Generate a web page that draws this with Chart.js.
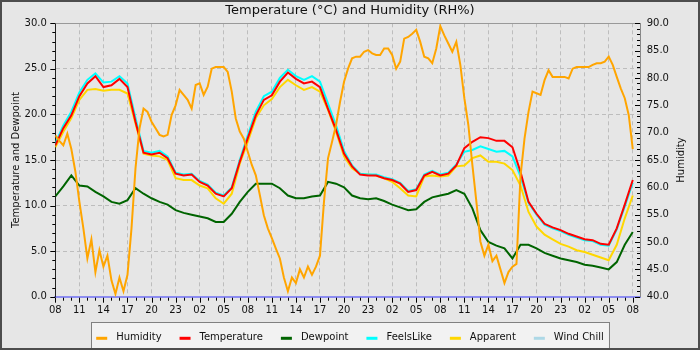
<!DOCTYPE html>
<html>
<head>
<meta charset="utf-8">
<script src="https://cdn.jsdelivr.net/npm/chart.js@4/dist/chart.umd.min.js"></script>
<style>
html, body { margin: 0; padding: 0; background: #e6e6e6; }
#frame { position: absolute; left: 0; top: 0; width: 700px; height: 350px; box-sizing: border-box;
         border: 2px solid #4d4d4d; background: #e6e6e6; overflow: hidden; }
canvas { display: block; }
</style>
</head>
<body>
<div id="frame"><canvas id="weather" width="696" height="346"></canvas></div>
<script>
const START_HOUR = 8;   // first sample at 08:00
const HOUR_SPAN = 72.9;
const FONT = '"DejaVu Sans", sans-serif';

// hourly readings, degrees C
var temperature = [
  16.6, 18.5, 19.9, 22.0, 23.4, 24.2, 23.0, 23.2, 23.9, 23.0, 19.2, 15.8,
  15.6, 15.8, 15.2, 13.5, 13.3, 13.4, 12.6, 12.2, 11.3, 11.0, 11.9, 14.8,
  17.4, 19.9, 21.6, 22.1, 23.6, 24.6, 23.9, 23.4, 23.6, 23.0, 20.6, 18.3,
  15.7, 14.3, 13.4, 13.3, 13.3, 13.0, 12.8, 12.4, 11.5, 11.7, 13.3, 13.7,
  13.3, 13.5, 14.4, 16.3, 17.0, 17.5, 17.4, 17.1, 17.1, 16.4, 13.7, 10.4,
  9.1, 8.0, 7.6, 7.3, 6.9, 6.6, 6.3, 6.2, 5.8, 5.7, 7.5, 10.1,
  12.8
];
var dewpoint = [
  11.0, 12.1, 13.3, 12.2, 12.1, 11.5, 11.0, 10.4, 10.2, 10.6, 11.9, 11.3,
  10.8, 10.4, 10.1, 9.5, 9.2, 9.0, 8.8, 8.6, 8.2, 8.2, 9.1, 10.4,
  11.5, 12.4, 12.4, 12.4, 11.9, 11.1, 10.8, 10.8, 11.0, 11.1, 12.6, 12.4,
  12.0, 11.1, 10.8, 10.7, 10.8, 10.5, 10.1, 9.8, 9.5, 9.6, 10.4, 10.9,
  11.1, 11.3, 11.7, 11.3, 9.7, 7.3, 6.0, 5.6, 5.3, 4.2, 5.7, 5.7,
  5.3, 4.8, 4.5, 4.2, 4.0, 3.8, 3.5, 3.4, 3.2, 3.0, 3.8, 5.7,
  7.1
];
var feelsLike = [
  16.8, 18.8, 20.3, 22.4, 23.8, 24.5, 23.5, 23.6, 24.2, 23.4, 19.6, 16.0,
  15.8, 16.0, 15.4, 13.6, 13.4, 13.5, 12.7, 12.3, 11.4, 11.1, 12.0, 15.0,
  17.7, 20.3, 22.0, 22.5, 24.0, 24.9, 24.2, 23.8, 24.2, 23.6, 21.2, 18.8,
  16.0, 14.4, 13.5, 13.4, 13.4, 13.1, 12.9, 12.5, 11.6, 11.8, 13.4, 13.8,
  13.4, 13.6, 14.5, 15.9, 16.1, 16.5, 16.2, 15.9, 16.0, 15.4, 13.2, 10.3,
  9.0, 7.9, 7.5, 7.2, 6.8, 6.5, 6.2, 6.1, 5.7, 5.6, 7.4, 9.9,
  12.5
];
var apparent = [
  16.4, 18.1, 19.6, 21.6, 22.7, 22.8, 22.6, 22.7, 22.7, 22.3, 19.0, 15.7,
  15.5, 15.4, 15.0, 13.0, 12.8, 12.8, 12.2, 11.9, 10.8, 10.2, 11.3, 14.6,
  17.0, 19.6, 21.0, 21.7, 23.0, 23.8, 23.2, 22.7, 23.0, 22.5, 20.5, 18.1,
  15.4, 14.1, 13.5, 13.4, 13.3, 13.0, 12.6, 11.9, 11.1, 11.0, 13.2, 13.3,
  13.2, 13.3, 14.3, 14.4, 15.2, 15.5, 14.8, 14.8, 14.6, 13.9, 12.2, 9.3,
  7.7, 6.8, 6.3, 5.8, 5.5, 5.1, 4.9, 4.6, 4.3, 4.0, 5.7, 8.6,
  11.1
];
var windChill = [];

// half-hourly readings, RH %
var humidity = [
  69.5, 68.5, 67.7, 69.8, 67.0, 62.9, 57.4, 52.5, 47.0, 50.5, 44.5, 48.5,
  45.5, 47.5, 43.0, 40.5, 43.5, 41.0, 44.0, 52.5, 63.5, 70.8, 74.4, 73.8,
  72.0, 70.8, 69.6, 69.3, 69.6, 73.2, 75.0, 77.8, 76.9, 76.0, 74.4, 78.7,
  79.0, 76.9, 78.4, 81.7, 82.0, 82.0, 82.0, 81.1, 77.5, 72.6, 70.2, 68.9,
  66.5, 64.1, 62.2, 58.6, 54.9, 52.5, 50.7, 48.8, 47.0, 43.5, 41.0, 43.5,
  42.5, 45.0, 43.5, 45.5, 44.0, 45.5, 47.5, 57.4, 65.3, 68.3, 71.4, 75.6,
  79.3, 81.7, 83.6, 83.9, 83.9, 84.8, 85.1, 84.5, 84.2, 84.2, 85.4, 85.4,
  84.2, 81.7, 83.0, 87.2, 87.5, 88.1, 88.8, 86.6, 83.9, 83.6, 82.7, 85.4,
  89.5, 87.8, 86.3, 84.8, 86.6, 82.4, 76.3, 71.4, 64.1, 57.4, 50.1, 47.5,
  49.5, 46.5, 47.5, 45.0, 42.5, 44.5, 45.5, 46.0, 62.0, 68.9, 73.8, 77.5,
  77.2, 76.9, 79.6, 81.4, 80.2, 80.2, 80.2, 80.2, 79.9, 81.7, 82.0, 82.0,
  82.0, 82.0, 82.4, 82.7, 82.7, 83.0, 83.9, 82.4, 80.2, 78.1, 76.3, 73.2,
  67.0
];

var hourly = arr => arr.map((v, i) => ({x: i, y: v}));
var halfHourly = arr => arr.map((v, i) => ({x: i / 2, y: v}));

function series(label, data, color, axis) {
    return {label: label, data: data, borderColor: color, backgroundColor: color,
            borderWidth: 2, pointRadius: 0, tension: 0, yAxisID: axis};
}

var extras = {
    id: 'extras',
    afterDraw(chart) {
        let ctx = chart.ctx, a = chart.chartArea;
        let x = chart.scales.x, y = chart.scales.y, y1 = chart.scales.y1;
        ctx.save();
        ctx.lineWidth = 1;
        ctx.strokeStyle = '#999';
        ctx.beginPath();
        ctx.moveTo(a.left, Math.round(a.top) + 0.5);
        ctx.lineTo(a.right, Math.round(a.top) + 0.5);
        ctx.stroke();

        // major + minor tick marks
        ctx.strokeStyle = '#000';
        ctx.beginPath();
        for (let h = 0; h <= x.max; h++) {
            let px = Math.round(x.getPixelForValue(h)) + 0.5;
            let len = h % 3 === 0 ? 5 : 3;
            ctx.moveTo(px, a.bottom + 1);
            ctx.lineTo(px, a.bottom + 1 + len);
        }
        for (let v = y.min; v <= y.max; v++) {
            let py = Math.round(y.getPixelForValue(v)) + 0.5;
            let len = v % 5 === 0 ? 5 : 3;
            ctx.moveTo(a.left, py);
            ctx.lineTo(a.left - len, py);
        }
        for (let v = y1.min; v <= y1.max; v++) {
            let py = Math.round(y1.getPixelForValue(v)) + 0.5;
            let len = v % 5 === 0 ? 5 : 3;
            ctx.moveTo(a.right, py);
            ctx.lineTo(a.right - len, py);
        }
        ctx.stroke();

        // right axis title, reading upwards
        ctx.fillStyle = '#111';
        ctx.font = '10px ' + FONT;
        ctx.textAlign = 'center';
        ctx.textBaseline = 'middle';
        ctx.translate(chart.width - 16.3, (a.top + a.bottom) / 2);
        ctx.rotate(-Math.PI / 2);
        ctx.fillText('Humidity', 0, 0);
        ctx.setTransform(1, 0, 0, 1, 0, 0);

        // legend box at the bottom
        let items = chart.data.datasets.map(d => ({label: d.label, color: d.borderColor, w: ctx.measureText(d.label).width}));
        let total = items.reduce((s, it) => s + 20 + it.w, 0) + 18 * (items.length - 1);
        let lx = (chart.width - total) / 2;
        let top = chart.height - 26;
        let ly = chart.height - 10.7;
        ctx.fillStyle = '#f2f2f2';
        ctx.fillRect(lx - 5, top, total + 10, 40);
        ctx.strokeStyle = '#808080';
        ctx.strokeRect(Math.round(lx - 5) + 0.5, top + 0.5, Math.round(total + 10), 40);
        ctx.textAlign = 'left';
        items.forEach(it => {
            ctx.strokeStyle = it.color;
            ctx.lineWidth = 3;
            ctx.beginPath();
            ctx.moveTo(lx, ly + 1);
            ctx.lineTo(lx + 11, ly + 1);
            ctx.stroke();
            ctx.fillStyle = '#111';
            ctx.fillText(it.label, lx + 20, ly);
            lx += 20 + it.w + 18;
        });
        ctx.restore();
    }
};

new Chart('weather', {
    type: 'line',
    data: {
        datasets: [
            series('Humidity', halfHourly(humidity), '#ffa500', 'y1'),
            series('Temperature', hourly(temperature), '#ff0000', 'y'),
            series('Dewpoint', hourly(dewpoint), '#006400', 'y'),
            series('FeelsLike', hourly(feelsLike), '#00ffff', 'y'),
            series('Apparent', hourly(apparent), '#ffd700', 'y'),
            series('Wind Chill', hourly(windChill), '#add8e6', 'y')
        ]
    },
    options: {
        responsive: false,
        animation: false,
        events: [],
        layout: {padding: {bottom: 26.3}},
        plugins: {
            legend: {display: false},
            tooltip: {enabled: false},
            title: {
                display: true,
                text: 'Temperature (°C) and Humidity (RH%)',
                color: '#111',
                font: {family: FONT, size: 13, weight: 'normal'},
                padding: {top: 1, bottom: 4.7}
            }
        },
        scales: {
            x: {
                type: 'linear',
                min: 0,
                max: HOUR_SPAN,
                afterFit: s => { s.height = 25; },
                border: {color: '#8c8cf0', width: 2, dash: [4, 3]},
                grid: {color: '#bdbdbd', drawTicks: false},
                ticks: {
                    stepSize: 3, includeBounds: false, autoSkip: false, maxRotation: 0,
                    maxTicksLimit: 100, padding: 8, color: '#111',
                    font: {family: FONT, size: 10},
                    callback: v => String((START_HOUR + v) % 24).padStart(2, '0')
                }
            },
            y: {
                position: 'left',
                min: 0,
                max: 30,
                afterFit: s => { s.width = 53.3; },
                border: {color: '#222', width: 1, dash: [4, 3]},
                grid: {color: '#bdbdbd', drawTicks: false},
                ticks: {stepSize: 5, padding: 8.5, color: '#111', font: {family: FONT, size: 10},
                        callback: v => v.toFixed(1)},
                title: {display: true, text: 'Temperature and Dewpoint', color: '#111',
                        font: {family: FONT, size: 10}, padding: {top: 8.7, bottom: 0}}
            },
            y1: {
                position: 'right',
                min: 40,
                max: 90,
                afterFit: s => { s.width = 58; },
                border: {color: '#888', width: 1},
                grid: {drawOnChartArea: false, drawTicks: false},
                ticks: {stepSize: 5, padding: 6.7, color: '#111', font: {family: FONT, size: 10},
                        callback: v => v.toFixed(1)}
            }
        }
    },
    plugins: [extras]
});
</script>
</body>
</html>
